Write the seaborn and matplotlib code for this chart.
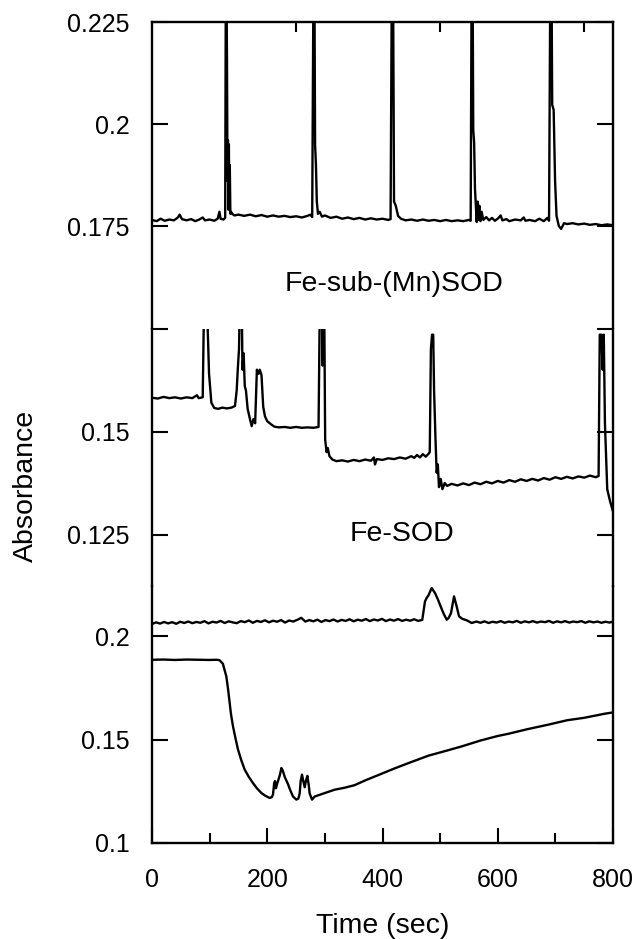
import matplotlib
matplotlib.use("Agg")
import matplotlib.pyplot as plt
import pandas as pd
import seaborn as sns

# ---------------- data ----------------
# Top trace: Fe-sub-(Mn)SOD
top_t = [0, 8, 15, 22, 30, 38, 45, 48, 52, 60, 68, 75, 82, 88, 92, 100, 108, 114, 117, 119, 124, 127,
         128, 129.5, 130.2, 131, 131.8, 132.6, 133.4, 134.2, 135, 136, 137, 140, 143, 150, 160, 170,
         180, 190, 200, 210, 220, 230, 240, 250, 260, 270, 275, 278,
         280, 282, 283, 284.5, 286, 288, 291, 295, 300, 310, 320, 330, 340, 350, 360, 370, 380, 390,
         400, 410, 414, 416, 418.5, 420, 423, 427, 432, 440, 450, 460, 470, 480, 490, 500, 510, 520,
         530, 540, 550, 553, 554.5, 556.5, 557.5, 559, 560.5, 562, 563.5, 565, 566.5, 568, 570, 572,
         575, 580, 585, 590, 595, 600, 605, 608, 615, 620, 630, 640, 645, 648, 655, 665, 672, 680,
         686, 689, 691, 693.5, 694.5, 697, 699.5, 702, 706, 710, 715, 720, 730, 740, 750, 760, 770,
         780, 790, 800]
top_v = [0.1765, 0.1762, 0.1768, 0.1763, 0.1766, 0.1764, 0.1771, 0.1778, 0.1767, 0.1764, 0.1767,
         0.1762, 0.1766, 0.1771, 0.1764, 0.1766, 0.1763, 0.1768, 0.1785, 0.1768, 0.1766, 0.1770,
         0.2300, 0.2300, 0.2140, 0.1860, 0.1960, 0.1790, 0.1950, 0.1800, 0.1900, 0.1780, 0.1785,
         0.1779, 0.1776, 0.1778, 0.1775, 0.1778, 0.1774, 0.1777, 0.1773, 0.1776, 0.1773, 0.1775,
         0.1772, 0.1774, 0.1771, 0.1775, 0.1778, 0.1772,
         0.2300, 0.2300, 0.1950, 0.1900, 0.1810, 0.1780, 0.1785, 0.1773, 0.1776, 0.1770, 0.1773,
         0.1768, 0.1771, 0.1767, 0.1770, 0.1766, 0.1769, 0.1766, 0.1768, 0.1765, 0.1767,
         0.2300, 0.2300, 0.1810, 0.1800, 0.1775, 0.1768, 0.1764, 0.1766, 0.1763, 0.1766, 0.1763,
         0.1765, 0.1762, 0.1765, 0.1762, 0.1764, 0.1762, 0.1765, 0.1763,
         0.2300, 0.2300, 0.1985, 0.1955, 0.1840, 0.1800, 0.1760, 0.1810, 0.1765, 0.1800, 0.1762,
         0.1785, 0.1765, 0.1772, 0.1764, 0.1770, 0.1763, 0.1768, 0.1776, 0.1764, 0.1767, 0.1762,
         0.1766, 0.1764, 0.1771, 0.1763, 0.1765, 0.1762, 0.1768, 0.1762, 0.1770, 0.1763,
         0.2300, 0.2300, 0.2047, 0.2035, 0.1860, 0.1775, 0.1750, 0.1743, 0.1757, 0.1755, 0.1757,
         0.1754, 0.1756, 0.1753, 0.1755, 0.1752, 0.1754, 0.1752]

# Middle trace
mid_t = [0, 10, 20, 30, 40, 50, 60, 70, 78, 81, 88, 90, 96, 99, 103, 108, 115, 122, 130, 138, 144,
         147, 149, 151, 152, 156, 157, 159, 161, 163, 166, 170, 173, 176, 179, 182, 185, 187, 190,
         193, 196, 200, 206, 212, 220, 230, 240, 250, 260, 270, 280, 289, 291, 295, 296, 297, 299,
         300.5, 303, 305, 308, 313, 320, 330, 340, 350, 360, 370, 380, 385, 387, 390, 400, 410, 420,
         430, 440, 450, 455, 460, 465, 470, 475, 480, 482, 484, 486, 488, 489.5, 492, 494, 496, 498,
         501, 504, 508, 512, 520, 530, 540, 550, 560, 570, 580, 590, 600, 610, 620, 630, 640, 650,
         660, 670, 680, 690, 700, 710, 720, 730, 740, 750, 760, 770, 775, 777, 780, 782, 784, 786,
         790, 795, 800]
mid_v = [0.1582, 0.1580, 0.1584, 0.1581, 0.1583, 0.1580, 0.1583, 0.1581, 0.1588, 0.1581, 0.1583,
         0.1780, 0.1780, 0.1640, 0.1570, 0.1557, 0.1555, 0.1558, 0.1556, 0.1558, 0.1562, 0.1600,
         0.1655, 0.1700, 0.1780, 0.1780, 0.1650, 0.1690, 0.1610, 0.1600, 0.1555, 0.1530, 0.1513,
         0.1530, 0.1520, 0.1650, 0.1640, 0.1650, 0.1637, 0.1560, 0.1537, 0.1525, 0.1518, 0.1512,
         0.1510, 0.1511, 0.1509, 0.1511, 0.1509, 0.1510, 0.1509, 0.1511, 0.1780, 0.1780, 0.1660,
         0.1780, 0.1780, 0.1480, 0.1450, 0.1460, 0.1440, 0.1432, 0.1428, 0.1430, 0.1427, 0.1431,
         0.1428, 0.1432, 0.1429, 0.1437, 0.1420, 0.1433, 0.1431, 0.1435, 0.1433, 0.1437, 0.1434,
         0.1440, 0.1436, 0.1443, 0.1437, 0.1445, 0.1439, 0.1446, 0.1450, 0.1700, 0.1735, 0.1735,
         0.1600, 0.1480, 0.1400, 0.1420, 0.1365, 0.1385, 0.1360, 0.1375, 0.1368, 0.1373, 0.1369,
         0.1374, 0.1370, 0.1376, 0.1372, 0.1378, 0.1374, 0.1380, 0.1376, 0.1382, 0.1378, 0.1384,
         0.1380, 0.1385, 0.1381, 0.1387, 0.1383, 0.1389, 0.1385, 0.1390, 0.1386, 0.1391, 0.1388,
         0.1393, 0.1389, 0.1392, 0.1735, 0.1735, 0.1650, 0.1735, 0.1520, 0.1360, 0.1330, 0.1306]

# Fe-SOD trace (bottom panel, upper noisy line)
fesod_t = [0, 7, 14, 21, 28, 35, 42, 49, 56, 63, 70, 77, 84, 91, 98, 105, 112, 119, 126, 133, 140,
           147, 154, 161, 168, 175, 182, 189, 196, 203, 210, 217, 224, 231, 238, 245, 252, 259, 266,
           273, 280, 287, 294, 301, 308, 315, 322, 329, 336, 343, 350, 357, 364, 371, 378, 385, 392,
           399, 406, 413, 420, 427, 434, 441, 448, 455, 462, 469, 473.7, 476.6, 480, 485.3, 491.1,
           496, 499.8, 505.6, 511.4, 515, 518.9, 524.1, 528.7, 532.8, 538.5, 546.1, 554.8, 563, 570,
           577, 584, 591, 598, 605, 612, 619, 626, 633, 640, 647, 654, 661, 668, 675, 682, 689, 696,
           703, 710, 717, 724, 731, 738, 745, 752, 759, 766, 773, 780, 787, 794, 800]
fesod_v = [0.2060, 0.2068, 0.2062, 0.2070, 0.2063, 0.2069, 0.2061, 0.2071, 0.2065, 0.2072, 0.2064,
           0.2070, 0.2066, 0.2074, 0.2063, 0.2071, 0.2067, 0.2075, 0.2065, 0.2073, 0.2068, 0.2064,
           0.2074, 0.2069, 0.2077, 0.2066, 0.2075, 0.2070, 0.2078, 0.2068, 0.2076, 0.2071, 0.2079,
           0.2067, 0.2077, 0.2072, 0.2080, 0.2090, 0.2072, 0.2079, 0.2073, 0.2081, 0.2070, 0.2079,
           0.2074, 0.2082, 0.2072, 0.2080, 0.2075, 0.2083, 0.2073, 0.2081, 0.2076, 0.2084, 0.2074,
           0.2082, 0.2077, 0.2085, 0.2074, 0.2082, 0.2076, 0.2084, 0.2075, 0.2081, 0.2076, 0.2083,
           0.2075, 0.2080, 0.2169, 0.2186, 0.2200, 0.2234, 0.2210, 0.2180, 0.2153, 0.2113, 0.2081,
           0.2090, 0.2113, 0.2194, 0.2145, 0.2097, 0.2085, 0.2078, 0.2065, 0.2072, 0.2066, 0.2073,
           0.2065, 0.2071, 0.2067, 0.2074, 0.2066, 0.2072, 0.2068, 0.2075, 0.2066, 0.2073, 0.2068,
           0.2074, 0.2067, 0.2072, 0.2069, 0.2075, 0.2066, 0.2073, 0.2068, 0.2074, 0.2067, 0.2072,
           0.2069, 0.2074, 0.2066, 0.2073, 0.2068, 0.2072, 0.2066, 0.2071, 0.2067, 0.2072]

# Bottom trace (lower smooth line)
bot_t = [0, 20, 40, 60, 80, 100, 112, 117, 123, 129, 132, 134.8, 137, 140.6, 145, 149.3, 155, 160.9,
         168, 175.3, 182, 189.8, 197, 204.2, 208, 210, 212, 213.5, 215, 217, 219.8, 222, 224.5, 227,
         230.3, 236, 240, 244.7, 250.5, 254, 256.3, 258, 260.3, 262.5, 265, 267, 269.6, 272, 273.6,
         277.7, 282.3, 300, 317, 335, 351.7, 370, 392, 420, 450, 480, 510, 538, 570, 600, 619, 650,
         688, 720, 750, 786, 800]
bot_v = [0.1887, 0.1888, 0.1886, 0.1888, 0.1887, 0.1886, 0.1887, 0.1885, 0.1868, 0.1806, 0.1745,
         0.1678, 0.1625, 0.1564, 0.1505, 0.1452, 0.1400, 0.1355, 0.1320, 0.1290, 0.1265, 0.1242,
         0.1228, 0.1218, 0.1222, 0.1235, 0.1290, 0.1300, 0.1265, 0.1285, 0.1310, 0.1330, 0.1363,
         0.1350, 0.1320, 0.1285, 0.1255, 0.1225, 0.1210, 0.1215, 0.1240, 0.1300, 0.1331, 0.1300,
         0.1270, 0.1300, 0.1325, 0.1280, 0.1240, 0.1210, 0.1225, 0.1242, 0.1258, 0.1268, 0.1280,
         0.1303, 0.1328, 0.1360, 0.1392, 0.1423, 0.1446, 0.1468, 0.1496, 0.1518, 0.1529, 0.1550,
         0.1573, 0.1594, 0.1606, 0.1626, 0.1632]

top_yticks = [0.175, 0.2, 0.225]
top_ylabels = ["0.175", "0.2", "0.225"]
mid_yticks = [0.125, 0.15, 0.175]
mid_ylabels = ["0.125", "0.15", ""]
bot_yticks = [0.1, 0.15, 0.2]
bot_ylabels = ["0.1", "0.15", "0.2"]
x_major = [0, 200, 400, 600, 800]
x_labels = ["0", "200", "400", "600", "800"]
x_minor = [100, 300, 500, 700]
top_xticks = [250, 500, 750]

label_top = "Fe-sub-(Mn)SOD"
label_mid = "Fe-SOD"

# ---------------- figure ----------------
sns.set_style("ticks")
plt.rcParams['font.family'] = ['Liberation Sans', 'DejaVu Sans']
plt.rcParams.update({"text.color": "black", "axes.labelcolor": "black",
                     "xtick.color": "black", "ytick.color": "black",
                     "axes.edgecolor": "black"})

W_PX, H_PX = 637, 939
fig = plt.figure(figsize=(W_PX / 100, H_PX / 100), dpi=100)
L = 152 / W_PX
W = 461 / W_PX
ax_top = fig.add_axes([L, 1 - 328.5 / H_PX, W, 306.5 / H_PX])
ax_mid = fig.add_axes([L, 1 - 586 / H_PX, W, 257.5 / H_PX])
ax_bot = fig.add_axes([L, 1 - 843 / H_PX, W, 257 / H_PX])

lw = 1.7
sns.lineplot(data=pd.DataFrame({"t": top_t, "v": top_v}), x="t", y="v", ax=ax_top,
             color="black", lw=lw, estimator=None, sort=False)
sns.lineplot(data=pd.DataFrame({"t": mid_t, "v": mid_v}), x="t", y="v", ax=ax_mid,
             color="black", lw=lw, estimator=None, sort=False)
sns.lineplot(data=pd.DataFrame({"t": fesod_t, "v": fesod_v}), x="t", y="v", ax=ax_bot,
             color="black", lw=lw, estimator=None, sort=False)
sns.lineplot(data=pd.DataFrame({"t": bot_t, "v": bot_v}), x="t", y="v", ax=ax_bot,
             color="black", lw=lw, estimator=None, sort=False)

ax_top.set_ylim(0.1499, 0.225)
ax_mid.set_ylim(0.1125, 0.175)
ax_bot.set_ylim(0.1, 0.2244)

for ax in (ax_top, ax_mid, ax_bot):
    ax.set_xlim(0, 800)
    ax.set_xlabel("")
    ax.set_ylabel("")
    ax.set_facecolor("none")
    for s in ax.spines.values():
        s.set_linewidth(1.7)
        s.set_color("black")
    ax.tick_params(axis="y", which="both", direction="in", left=True, right=True,
                   length=11.5, width=1.5, labelsize=18, pad=16, colors="black")

ax_top.set_yticks(top_yticks, labels=top_ylabels)
ax_mid.set_yticks(mid_yticks, labels=mid_ylabels)
ax_bot.set_yticks(bot_yticks, labels=bot_ylabels)

ax_top.spines["bottom"].set_visible(False)
ax_mid.spines["top"].set_visible(False)
ax_mid.spines["bottom"].set_visible(False)
ax_bot.spines["top"].set_visible(False)

ax_top.set_xticks(top_xticks)
ax_top.tick_params(axis="x", direction="in", top=True, bottom=False, labeltop=False,
                   labelbottom=False, length=7, width=1.5, colors="black")
ax_mid.tick_params(axis="x", top=False, bottom=False, labelbottom=False)
ax_bot.set_xticks(x_major, labels=x_labels)
ax_bot.set_xticks(x_minor, minor=True)
ax_bot.tick_params(axis="x", which="major", direction="in", top=False, bottom=True,
                   length=11, width=1.5, labelsize=18, pad=18, colors="black")
ax_bot.tick_params(axis="x", which="minor", direction="in", top=False, bottom=True,
                   length=7, width=1.5, colors="black")

ax_top.text(420, 0.1608, label_top, ha="center", va="center", fontsize=20.5, color="black")
ax_mid.text(434, 0.1252, label_mid, ha="center", va="center", fontsize=20.5, color="black")

ax_bot.set_xlabel("Time (sec)", fontsize=20.5, labelpad=15, color="black")
fig.text(25.5 / W_PX, 1 - 486 / H_PX, "Absorbance", rotation=90, ha="center",
         va="center", fontsize=20.5, color="black")

fig.savefig("out.png", dpi=100, facecolor="white")
